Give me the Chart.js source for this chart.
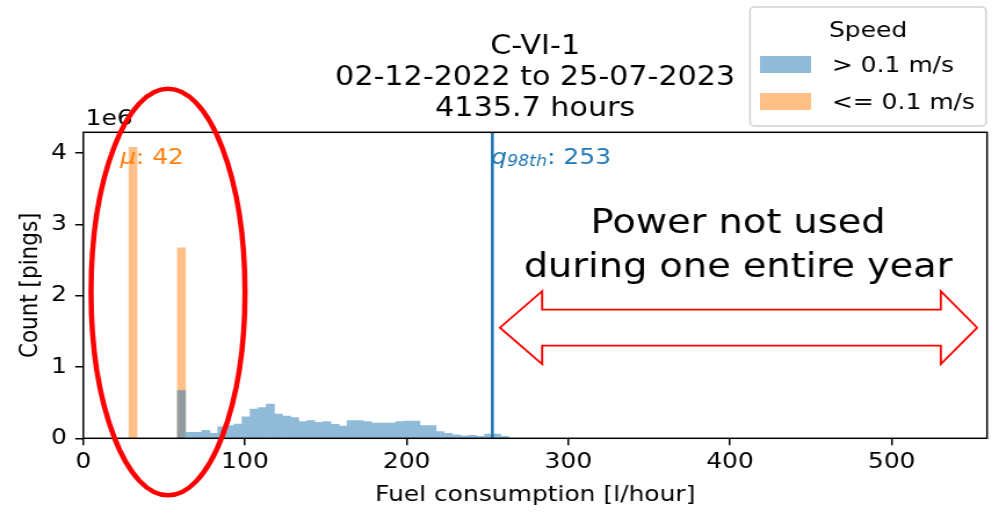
<!DOCTYPE html>
<html>
<head>
<meta charset="utf-8">
<script src="https://cdn.jsdelivr.net/npm/chart.js@4.4.0/dist/chart.umd.min.js"></script>
<style>
html, body { margin: 0; padding: 0; background: #fff; overflow: hidden; }
#c { display: block; }
</style>
</head>
<body>
<canvas id="c" width="861" height="520" style="width:999px;height:520px"></canvas>
<script>
// histogram bins (centres, l/hour) and counts (millions of pings)
const movingBins = [60.7, 65.7, 70.7, 75.7, 80.7, 85.7, 90.7, 95.7, 100.7, 105.7,
    110.7, 115.7, 120.7, 125.7, 130.7, 135.7, 140.7, 145.7, 150.7, 155.7,
    160.7, 165.7, 170.7, 175.7, 180.7, 185.7, 190.7, 195.7, 200.7, 205.7,
    210.7, 215.7, 220.7, 225.7, 230.7, 235.7, 240.7, 245.7, 250.7, 255.7, 260.7];
const movingCounts = [0.67, 0.084, 0.084, 0.11, 0.07, 0.16, 0.18, 0.20, 0.30, 0.41,
    0.43, 0.48, 0.34, 0.31, 0.29, 0.234, 0.25, 0.224, 0.234, 0.196,
    0.173, 0.25, 0.248, 0.234, 0.215, 0.215, 0.215, 0.234, 0.243, 0.243,
    0.178, 0.178, 0.094, 0.07, 0.047, 0.033, 0.042, 0.028, 0.06, 0.06, 0.028];
const idleBins = [30.7, 60.7];
const idleCounts = [4.08, 2.67];

const seriesLabels = ['> 0.1 m/s', '<= 0.1 m/s'];
const titleLines = ['C-VI-1', '02-12-2022 to 25-07-2023', '4135.7 hours'];
const xTicks = [0, 100, 200, 300, 400, 500];
const yTicks = [0, 1, 2, 3, 4];
const meanIdle = 42;
const q98Moving = 253;

const FONT = 'DejaVu Sans';
// half-transparent tab:blue / tab:orange, flattened on white where bars don't overlap
const BLUE = 'rgb(143,187,217)';
const BLUE_SEE_THROUGH = 'rgba(31,119,180,0.5)';
const ORANGE = 'rgb(255,191,134)';

const toPoints = (bins, counts) => bins.map((b, i) => ({ x: b, y: counts[i] * 1e6 }));

const overlay = {
    id: 'overlay',
    afterDatasetsDraw(chart) {
        const { ctx, chartArea: a, scales: { x } } = chart;
        ctx.save();
        // 98th percentile line
        const qx = x.getPixelForValue(q98Moving);
        ctx.strokeStyle = '#1f77b4';
        ctx.lineWidth = 2.6;
        ctx.beginPath(); ctx.moveTo(qx, a.top); ctx.lineTo(qx, a.bottom); ctx.stroke();
        // axes frame
        ctx.strokeStyle = '#000';
        ctx.lineWidth = 1.5;
        ctx.strokeRect(a.left, a.top, a.right - a.left, a.bottom - a.top);
        ctx.restore();
    },
    afterDraw(chart) {
        const { ctx, chartArea: a, scales: { x, y } } = chart;
        ctx.save();
        ctx.textBaseline = 'middle';

        // title
        ctx.fillStyle = '#000';
        ctx.textAlign = 'center';
        ctx.font = `26px "${FONT}"`;
        const cx = (a.left + a.right) / 2;
        titleLines.forEach((t, i) => ctx.fillText(t, cx, 47 + i * 31));

        // offset text
        ctx.textAlign = 'left';
        ctx.font = `21.5px "${FONT}"`;
        ctx.fillText('1e6', a.left + 2, 119);

        // mu label
        let tx = x.getPixelForValue(22.7), ty = y.getPixelForValue(3.95e6) + 2;
        ctx.fillStyle = '#ff7f0e';
        ctx.font = `italic 21.5px "${FONT}"`;
        ctx.fillText('\u03bc', tx, ty);
        tx += ctx.measureText('\u03bc').width;
        ctx.font = `21.5px "${FONT}"`;
        ctx.fillText(': ' + meanIdle, tx, ty);

        // q98 label
        tx = x.getPixelForValue(q98Moving) - 1;
        ctx.fillStyle = '#1f77b4';
        ctx.font = `italic 21.5px "${FONT}"`;
        ctx.fillText('q', tx, ty);
        tx += ctx.measureText('q').width;
        ctx.font = `italic 15px "${FONT}"`;
        ctx.fillText('98th', tx, ty + 4);
        tx += ctx.measureText('98th').width;
        ctx.font = `21.5px "${FONT}"`;
        ctx.fillText(': ' + q98Moving, tx, ty);

        // annotation text
        ctx.fillStyle = '#000';
        ctx.textAlign = 'center';
        ctx.textBaseline = 'alphabetic';
        ctx.font = `33px "${FONT}"`;
        const ax = x.getPixelForValue(405);
        ctx.fillText('Power not used', ax, 233);
        ctx.fillText('during one entire year', ax, 277);

        // double headed block arrow
        const yc = y.getPixelForValue(1.551e6);
        const hh = y.getPixelForValue(0) - y.getPixelForValue(0.512e6);
        const sh = y.getPixelForValue(0) - y.getPixelForValue(0.2525e6);
        const x0 = x.getPixelForValue(257.7), x1 = x.getPixelForValue(283.8);
        const x2 = x.getPixelForValue(530.4), x3 = x.getPixelForValue(552.9);
        ctx.strokeStyle = '#ff0000';
        ctx.lineWidth = 1.8;
        ctx.beginPath();
        ctx.moveTo(x0, yc);
        ctx.lineTo(x1, yc - hh); ctx.lineTo(x1, yc - sh);
        ctx.lineTo(x2, yc - sh); ctx.lineTo(x2, yc - hh);
        ctx.lineTo(x3, yc);
        ctx.lineTo(x2, yc + hh); ctx.lineTo(x2, yc + sh);
        ctx.lineTo(x1, yc + sh); ctx.lineTo(x1, yc + hh);
        ctx.closePath();
        ctx.stroke();

        // red ellipse around the idle bars
        const ex = x.getPixelForValue(52.4), ey = y.getPixelForValue(2.05e6);
        const rx = x.getPixelForValue(52.4 + 47.6) - ex;
        const ry = ey - y.getPixelForValue(2.05e6 + 2.85e6);
        ctx.lineWidth = 4.5;
        ctx.beginPath();
        ctx.ellipse(ex, ey, rx, ry, 0, 0, Math.PI * 2);
        ctx.stroke();

        // legend
        const lx = 646.4, ly = 7, lw = 203.4, lh = 119;
        ctx.fillStyle = 'rgba(255,255,255,0.8)';
        ctx.strokeStyle = '#d0d0d0';
        ctx.lineWidth = 1.5;
        ctx.beginPath();
        ctx.roundRect(lx, ly, lw, lh, 4);
        ctx.fill(); ctx.stroke();
        ctx.fillStyle = '#000';
        ctx.textBaseline = 'middle';
        ctx.font = `21.5px "${FONT}"`;
        ctx.fillText('Speed', lx + lw / 2, 31);
        ctx.textAlign = 'left';
        [BLUE, ORANGE].forEach((col, i) => {
            const yy = 64.5 + i * 37;
            ctx.fillStyle = col;
            ctx.fillRect(655, yy - 8.5, 44, 17);
            ctx.fillStyle = '#000';
            ctx.fillText(chart.data.datasets[i].label, 717, yy + 2);
        });
        ctx.restore();
    }
};

const tickFont = { family: FONT, size: 21.5 };

new Chart(document.getElementById('c'), {
    type: 'bar',
    data: {
        datasets: [
            {
                label: seriesLabels[0],
                data: toPoints(movingBins, movingCounts),
                // the bin shared with the idle series stays see-through so the overlap turns grey
                backgroundColor: movingBins.map(b => idleBins.includes(b) ? BLUE_SEE_THROUGH : BLUE)
            },
            { label: seriesLabels[1], data: toPoints(idleBins, idleCounts), backgroundColor: ORANGE }
        ]
    },
    options: {
        responsive: false,
        animation: false,
        devicePixelRatio: 1,
        datasets: { bar: { grouped: false, barPercentage: 1, categoryPercentage: 1, borderWidth: 0 } },
        layout: { padding: { top: 132.3, right: 10.3, left: 0, bottom: 0 } },
        plugins: { legend: { display: false }, tooltip: { enabled: false } },
        scales: {
            x: {
                type: 'linear', min: 0, max: 559, offset: false,
                afterFit: s => { s.height = 81.7; },
                afterBuildTicks: s => { s.ticks = xTicks.map(v => ({ value: v })); },
                ticks: { color: '#000', font: tickFont, padding: 4, maxRotation: 0 },
                grid: { offset: false, drawOnChartArea: false, drawTicks: true, tickLength: 7, color: '#000', lineWidth: 1.5 },
                border: { display: false },
                title: { display: true, text: 'Fuel consumption [l/hour]', color: '#000', font: tickFont, padding: { top: 0, bottom: 12 } }
            },
            y: {
                type: 'linear', min: 0, max: 4.29e6,
                afterFit: s => { s.width = 71.8; },
                afterBuildTicks: s => { s.ticks = yTicks.map(v => ({ value: v * 1e6 })); },
                ticks: { color: '#000', font: tickFont, padding: 7, callback: v => String(v / 1e6) },
                grid: { drawOnChartArea: false, drawTicks: true, tickLength: 7, color: '#000', lineWidth: 1.5 },
                border: { display: false },
                title: { display: true, text: 'Count [pings]', color: '#000', font: tickFont, padding: { top: 14, bottom: 0 } }
            }
        }
    },
    plugins: [overlay]
});
</script>
</body>
</html>
